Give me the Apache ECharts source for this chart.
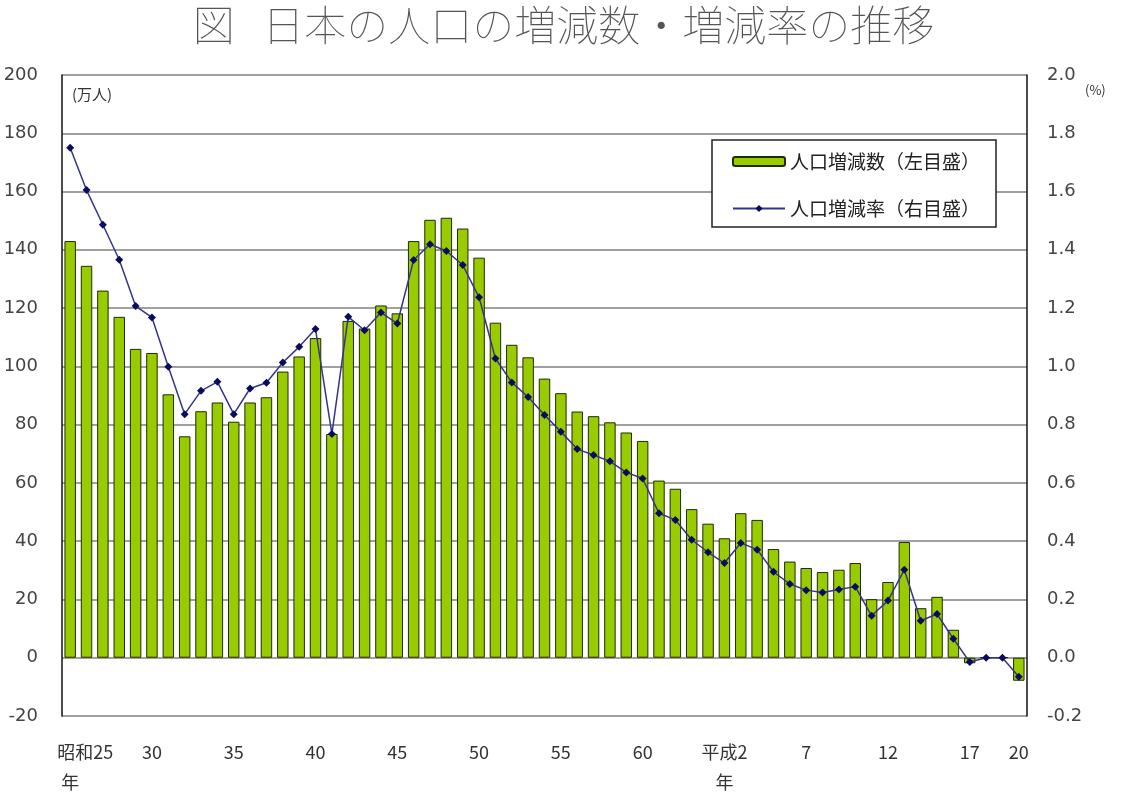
<!DOCTYPE html>
<html>
<head>
<meta charset="utf-8">
<script src="https://cdn.jsdelivr.net/npm/echarts@6/dist/echarts.min.js"></script>
<style>
html,body{margin:0;padding:0;background:#fff;}
#chart{width:1127px;height:800px;}
</style>
</head>
<body>
<div id="chart"></div>
<script>
// Tick labels for each year, 昭和25年 (1950) to 平成20年 (2008)
const tickLabels = [
  '昭和25\n年','','','','','30','','','','','35','','','','','40','','','','','45','','','','','50','','','','','55','','','','','60','','','','',
  '平成2\n年','','','','','7','','','','','12','','','','','17','','','20'
];
// 人口増減数 (万人)
const changeCount = [
  143, 134.5, 126, 117, 106, 104.6, 90.4, 76, 84.6, 87.6,
  81, 87.6, 89.4, 98.2, 103.4, 109.7, 76.8, 115.6, 113, 120.9,
  118.2, 143, 150.3, 151, 147.3, 137.3, 115, 107.4, 103.1, 95.8,
  90.8, 84.5, 82.9, 80.8, 77.3, 74.4, 60.8, 58, 51, 46,
  41, 49.6, 47.3, 37.3, 33, 30.8, 29.4, 30.2, 32.5, 20.1,
  26, 39.7, 17, 20.9, 9.6, -1.9, 0.1, 0.1, -7.9
];
// 人口増減率 (%)
const changeRate = [
  1.75, 1.605, 1.486, 1.366, 1.207, 1.168, 0.999, 0.836, 0.916, 0.947,
  0.836, 0.924, 0.944, 1.013, 1.067, 1.128, 0.768, 1.17, 1.124, 1.185,
  1.147, 1.365, 1.419, 1.396, 1.348, 1.237, 1.027, 0.945, 0.895, 0.833,
  0.776, 0.716, 0.696, 0.674, 0.636, 0.615, 0.496, 0.473, 0.405, 0.362,
  0.325, 0.394, 0.371, 0.295, 0.253, 0.232, 0.224, 0.234, 0.244, 0.144,
  0.196, 0.302, 0.127, 0.15, 0.065, -0.015, 0, 0, -0.065
];
const seriesNames = ['人口増減数（左目盛）', '人口増減率（右目盛）'];

const chart = echarts.init(document.getElementById('chart'), null, {renderer: 'canvas'});
const numFont = '"DejaVu Sans", sans-serif';
const cjkFont = '"Noto Sans CJK JP", sans-serif';

chart.setOption({
  animation: false,
  backgroundColor: '#ffffff',
  title: {
    text: '図   日本の人口の増減数・増減率の推移',
    left: 'center',
    top: -1,
    textStyle: {fontFamily: cjkFont, fontSize: 42, fontWeight: 100, color: '#555'}
  },
  legend: {
    orient: 'vertical',
    left: 712,
    top: 140,
    width: 283,
    padding: [12, 16, 9, 20],
    itemGap: 28,
    itemWidth: 52,
    itemHeight: 9,
    backgroundColor: '#fff',
    borderColor: '#222',
    borderWidth: 1.5,
    borderRadius: 0,
    textStyle: {fontFamily: cjkFont, fontSize: 19, color: '#222'},
    data: seriesNames
  },
  grid: {left: 62, right: 100, top: 75, bottom: 84, containLabel: false},
  xAxis: {
    type: 'category',
    data: tickLabels,
    axisLine: {show: false, onZero: false},
    axisTick: {show: false},
    axisLabel: {
      interval: 0,
      margin: 21,
      fontFamily: cjkFont,
      fontSize: 18,
      lineHeight: 30,
      color: '#333',
      formatter: (v, i) => {
        if (i === 0) {
          const parts = v.split('\n');
          return '{a|' + parts[0] + '}\n{b|' + parts[1] + '}';
        }
        return v;
      },
      rich: {
        a: {fontFamily: cjkFont, fontSize: 18, lineHeight: 30, color: '#333', padding: [0, 0, 0, 30]},
        b: {fontFamily: cjkFont, fontSize: 18, lineHeight: 30, color: '#333'}
      }
    }
  },
  yAxis: [
    {
      type: 'value',
      min: -20, max: 200, interval: 20,
      axisLine: {show: true, lineStyle: {color: '#111', width: 1.5}},
      axisTick: {show: false},
      splitLine: {show: true, lineStyle: {color: '#808080', width: 1.5}},
      axisLabel: {margin: 24, fontFamily: numFont, fontSize: 18, color: '#444'}
    },
    {
      type: 'value',
      min: -0.2, max: 2.0, interval: 0.2,
      axisLine: {show: true, lineStyle: {color: '#111', width: 1.5}},
      axisTick: {show: false},
      splitLine: {show: false},
      axisLabel: {
        margin: 20, fontFamily: numFont, fontSize: 18, color: '#444',
        formatter: v => (Math.round(v * 10) / 10).toFixed(1)
      }
    }
  ],
  series: [
    {
      name: seriesNames[0],
      type: 'bar',
      yAxisIndex: 0,
      data: changeCount,
      barCategoryGap: '30%',
      itemStyle: {color: '#99cc00', borderColor: '#1e2a00', borderWidth: 1}
    },
    {
      name: seriesNames[1],
      type: 'line',
      yAxisIndex: 1,
      data: changeRate,
      symbol: 'diamond',
      symbolSize: 8,
      lineStyle: {color: '#34348a', width: 1.5},
      itemStyle: {color: '#0b0b5e'},
      z: 5
    }
  ],
  graphic: [
    {type: 'text', left: 72, top: 87, style: {text: '(万人)', fontFamily: cjkFont, fontSize: 15, fill: '#333'}},
    {type: 'text', left: 1085, top: 84, style: {text: '(%)', fontFamily: cjkFont, fontSize: 13, fill: '#333'}}
  ]
});
</script>
</body>
</html>
